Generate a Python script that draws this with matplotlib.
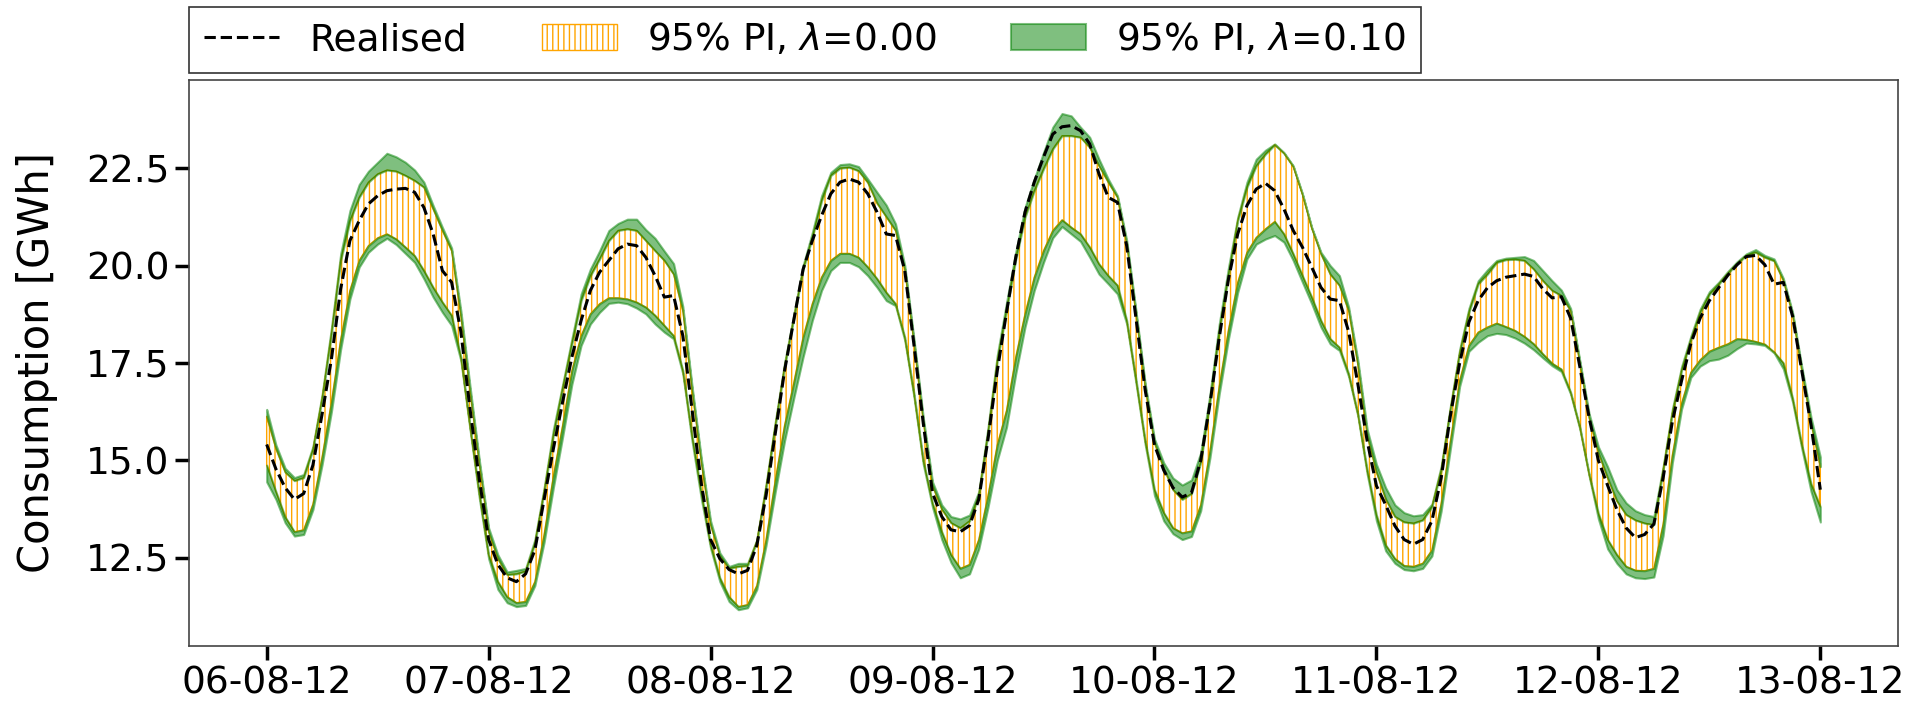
import numpy as np
import pandas as pd
import matplotlib
matplotlib.use('Agg')
from matplotlib import pyplot as plt
import matplotlib.dates as mdates

# hourly consumption in GWh, 06-08-12 00:00 .. 13-08-12 00:00 (one row per day)
realised = [
    15.41, 14.78, 14.3, 14.0, 14.15, 14.88, 16.2, 17.6, 19.4, 20.64, 21.15, 21.58, 21.79, 21.92, 21.96, 21.98, 21.88, 21.49, 20.81, 19.87, 19.57, 18.3, 16.3, 14.5,
    12.97, 12.33, 11.99, 11.89, 12.09, 12.7, 14.0, 15.3, 16.5, 17.65, 18.59, 19.36, 19.83, 20.13, 20.43, 20.55, 20.51, 20.21, 19.74, 19.19, 19.23, 18.2, 16.3, 14.4,
    12.97, 12.48, 12.2, 12.09, 12.18, 12.82, 14.1, 15.7, 17.3, 18.6, 19.9, 20.64, 21.28, 21.84, 22.14, 22.22, 22.14, 21.84, 21.37, 20.81, 20.77, 19.87, 17.95, 15.95,
    14.16, 13.56, 13.22, 13.17, 13.33, 14.0, 15.55, 17.3, 18.8, 20.21, 21.37, 22.14, 22.78, 23.37, 23.56, 23.59, 23.46, 23.12, 22.35, 21.75, 21.62, 20.5, 18.65, 16.8,
    15.4, 14.75, 14.3, 14.06, 14.17, 15.0, 16.45, 18.15, 19.65, 20.81, 21.54, 21.96, 22.11, 21.92, 21.45, 20.9, 20.47, 19.96, 19.44, 19.14, 19.1, 18.3, 16.95, 15.5,
    14.35, 13.86, 13.32, 12.97, 12.85, 12.97, 13.45, 14.55, 16.15, 17.5, 18.55, 19.1, 19.43, 19.61, 19.7, 19.74, 19.78, 19.72, 19.4, 19.17, 19.2, 18.65, 17.4, 16.1,
    15.0, 14.36, 13.74, 13.27, 13.02, 13.1, 13.37, 14.55, 16.0, 17.05, 18.0, 18.65, 19.1, 19.43, 19.75, 20.02, 20.23, 20.26, 20.02, 19.52, 19.57, 18.7, 17.3, 15.9,
    14.25,
]

# 95% interval, lambda = 0.00
lower_00 = [
    14.88, 14.2, 13.55, 13.17, 13.22, 13.88, 15.1, 16.5, 18.1, 19.36, 20.13, 20.51, 20.71, 20.81, 20.68, 20.47, 20.25, 19.87, 19.44, 19.06, 18.72, 17.65, 15.85, 14.14,
    12.58, 11.89, 11.5, 11.35, 11.38, 11.89, 13.1, 14.6, 15.9, 17.3, 18.2, 18.76, 19.02, 19.17, 19.17, 19.14, 19.06, 18.93, 18.72, 18.46, 18.2, 17.31, 15.63, 14.16,
    12.84, 11.99, 11.5, 11.25, 11.3, 11.79, 12.97, 14.5, 15.9, 17.0, 18.16, 19.02, 19.7, 20.13, 20.31, 20.31, 20.21, 19.96, 19.66, 19.31, 19.02, 18.16, 16.71, 15.0,
    13.9, 13.17, 12.58, 12.23, 12.33, 12.97, 14.1, 15.4, 16.28, 17.65, 18.76, 19.7, 20.38, 20.9, 21.17, 20.98, 20.81, 20.47, 20.04, 19.74, 19.49, 18.59, 17.08, 15.5,
    14.25, 13.66, 13.27, 13.14, 13.19, 13.86, 15.25, 16.9, 18.35, 19.57, 20.34, 20.72, 20.94, 21.13, 20.81, 20.3, 19.74, 19.19, 18.59, 18.12, 17.9, 17.22, 16.19, 14.75,
    13.6, 12.83, 12.48, 12.3, 12.28, 12.36, 12.7, 13.9, 15.5, 17.05, 17.95, 18.29, 18.42, 18.52, 18.43, 18.33, 18.18, 17.99, 17.73, 17.49, 17.34, 16.75, 15.85, 14.65,
    13.64, 12.97, 12.58, 12.28, 12.18, 12.17, 12.23, 13.37, 15.14, 16.47, 17.26, 17.58, 17.8, 17.9, 17.99, 18.12, 18.1, 18.05, 17.98, 17.78, 17.5, 16.6, 15.4, 14.4,
    13.81,
]
upper_00 = [
    16.13, 15.3, 14.7, 14.48, 14.56, 15.28, 16.6, 18.25, 20.13, 21.15, 21.75, 22.14, 22.35, 22.45, 22.42, 22.31, 22.18, 22.01, 21.45, 20.9, 20.38, 18.7, 16.75, 14.9,
    13.17, 12.48, 12.07, 12.09, 12.16, 12.87, 14.2, 15.65, 16.85, 17.99, 19.1, 19.74, 20.17, 20.64, 20.9, 20.94, 20.9, 20.64, 20.38, 20.13, 19.78, 18.84, 16.8, 14.95,
    13.35, 12.56, 12.23, 12.28, 12.3, 12.92, 14.3, 15.9, 17.4, 18.65, 19.9, 20.72, 21.66, 22.31, 22.5, 22.52, 22.43, 22.13, 21.6, 21.25, 20.9, 19.9, 18.0, 16.0,
    14.35, 13.75, 13.4, 13.27, 13.45, 14.1, 15.7, 17.55, 18.85, 20.16, 21.24, 21.92, 22.48, 22.99, 23.33, 23.33, 23.29, 23.03, 22.56, 22.14, 21.75, 20.55, 18.76, 16.88,
    15.45, 14.8, 14.25, 14.0, 14.15, 14.95, 16.5, 18.3, 19.75, 21.15, 22.01, 22.56, 22.86, 23.1, 22.88, 22.54, 21.82, 20.96, 20.3, 19.78, 19.49, 18.84, 17.45, 15.65,
    14.7, 14.01, 13.56, 13.42, 13.39, 13.47, 13.81, 14.75, 16.3, 17.75, 18.8, 19.53, 19.78, 20.08, 20.15, 20.16, 20.13, 19.91, 19.61, 19.36, 19.23, 18.84, 17.5, 16.1,
    15.2, 14.55, 13.96, 13.61, 13.47, 13.39, 13.35, 14.75, 16.22, 17.31, 18.1, 18.79, 19.26, 19.52, 19.8, 20.05, 20.26, 20.34, 20.21, 20.12, 19.62, 18.75, 17.3, 15.95,
    14.84,
]

# 95% interval, lambda = 0.10
lower_10 = [
    14.45, 14.0, 13.4, 13.06, 13.1, 13.74, 14.9, 16.25, 17.85, 19.14, 19.96, 20.34, 20.55, 20.7, 20.54, 20.31, 20.08, 19.66, 19.19, 18.8, 18.46, 17.56, 15.77, 14.02,
    12.48, 11.69, 11.35, 11.25, 11.28, 11.79, 12.9, 14.3, 15.6, 16.95, 17.95, 18.5, 18.8, 19.03, 19.06, 19.02, 18.91, 18.76, 18.5, 18.29, 18.12, 17.22, 15.49, 14.01,
    12.75, 11.89, 11.38, 11.17, 11.22, 11.69, 12.82, 14.2, 15.5, 16.6, 17.65, 18.59, 19.36, 19.87, 20.08, 20.08, 19.97, 19.74, 19.44, 19.1, 18.97, 18.08, 16.62, 14.9,
    13.8, 12.97, 12.38, 11.99, 12.09, 12.73, 13.8, 15.0, 15.85, 17.22, 18.42, 19.36, 20.08, 20.71, 21.0, 20.81, 20.62, 20.21, 19.78, 19.53, 19.27, 18.5, 16.98, 15.4,
    14.1, 13.45, 13.12, 12.97, 13.05, 13.71, 15.07, 16.7, 18.12, 19.31, 20.17, 20.55, 20.68, 20.77, 20.6, 20.13, 19.57, 19.02, 18.42, 17.99, 17.82, 17.15, 16.13, 14.65,
    13.45, 12.68, 12.36, 12.2, 12.17, 12.23, 12.55, 13.7, 15.3, 16.9, 17.8, 18.03, 18.2, 18.26, 18.23, 18.14, 18.01, 17.84, 17.63, 17.43, 17.28, 16.7, 15.8, 14.6,
    13.5, 12.73, 12.36, 12.09, 11.99, 11.97, 12.01, 13.07, 14.94, 16.32, 17.13, 17.42, 17.56, 17.6, 17.7, 17.87, 18.01, 17.99, 17.95, 17.76, 17.35, 16.5, 15.3, 14.2,
    13.42,
]
upper_10 = [
    16.31, 15.4, 14.8, 14.56, 14.64, 15.36, 16.7, 18.4, 20.3, 21.41, 22.08, 22.42, 22.65, 22.88, 22.79, 22.65, 22.45, 22.14, 21.54, 20.98, 20.45, 18.84, 16.88, 15.0,
    13.27, 12.58, 12.14, 12.18, 12.23, 12.97, 14.3, 15.8, 16.95, 18.12, 19.27, 19.91, 20.38, 20.9, 21.08, 21.19, 21.19, 20.92, 20.7, 20.37, 20.05, 18.95, 16.9, 15.05,
    13.45, 12.63, 12.28, 12.36, 12.36, 12.97, 14.4, 16.0, 17.5, 18.75, 20.0, 20.85, 21.79, 22.39, 22.59, 22.61, 22.54, 22.22, 21.88, 21.55, 21.07, 20.0, 18.1, 16.1,
    14.45, 13.86, 13.56, 13.5, 13.6, 14.2, 15.85, 17.7, 19.05, 20.35, 21.49, 22.22, 22.9, 23.55, 23.9, 23.84, 23.55, 23.29, 22.73, 22.22, 21.79, 20.64, 18.84, 16.96,
    15.55, 14.94, 14.55, 14.37, 14.5, 15.2, 16.7, 18.5, 19.95, 21.24, 22.14, 22.73, 22.96, 23.12, 22.9, 22.56, 21.84, 20.98, 20.34, 20.0, 19.74, 18.93, 17.56, 15.8,
    14.9, 14.3, 13.86, 13.66, 13.58, 13.61, 13.88, 14.85, 16.4, 17.85, 18.9, 19.61, 19.89, 20.13, 20.19, 20.21, 20.23, 20.13, 19.87, 19.61, 19.37, 18.9, 17.55, 16.2,
    15.35, 14.84, 14.25, 13.91, 13.71, 13.61, 13.56, 14.84, 16.32, 17.41, 18.19, 18.88, 19.33, 19.57, 19.85, 20.1, 20.3, 20.41, 20.26, 20.17, 19.67, 18.8, 17.4, 16.1,
    15.09,
]

hours = pd.date_range('2012-08-06', periods=len(realised), freq='h')

fig = plt.figure(figsize=(19.11, 7.03), dpi=100)
ax = fig.add_axes([0.0989, 0.0811, 0.8943, 0.8051])

# lambda = 0.00 band: white face, vertical orange hatching
band0 = ax.fill_between(hours, lower_00, upper_00, facecolor='white',
                        edgecolor='orange', hatch='|||', lw=1.0, zorder=2)
# lambda = 0.10 band, only the parts sticking out of the first band
band1 = ax.fill_between(hours, upper_00, upper_10, color='green', alpha=0.5,
                        lw=1.5, zorder=3)
ax.fill_between(hours, lower_10, lower_00, color='green', alpha=0.5,
                lw=1.5, zorder=3)
line, = ax.plot(hours, realised, color='black', ls='--', lw=2.2, zorder=5)

ax.set_ylim(10.24, 24.76)
ax.yaxis.set_major_locator(plt.MultipleLocator(2.5))
ax.xaxis.set_major_locator(mdates.DayLocator())
ax.xaxis.set_major_formatter(mdates.DateFormatter('%d-%m-%y'))

ax.tick_params(axis='both', labelsize=27, length=10, width=2.5, pad=4)
for sp in ax.spines.values():
    sp.set_color('#444444')
    sp.set_linewidth(1.2)

ax.set_ylabel('Consumption [GWh]', fontsize=30, labelpad=20)

leg = ax.legend([line, band0, band1],
                ['Realised', r'95% PI, $\lambda$=0.00', r'95% PI, $\lambda$=0.10'],
                loc='lower left', bbox_to_anchor=(0, 1.012), ncol=3,
                fontsize=27, fancybox=False, framealpha=1,
                edgecolor='#333333', borderaxespad=0)
leg.get_frame().set_linewidth(1.2)

fig.savefig('out.png', dpi=100)
